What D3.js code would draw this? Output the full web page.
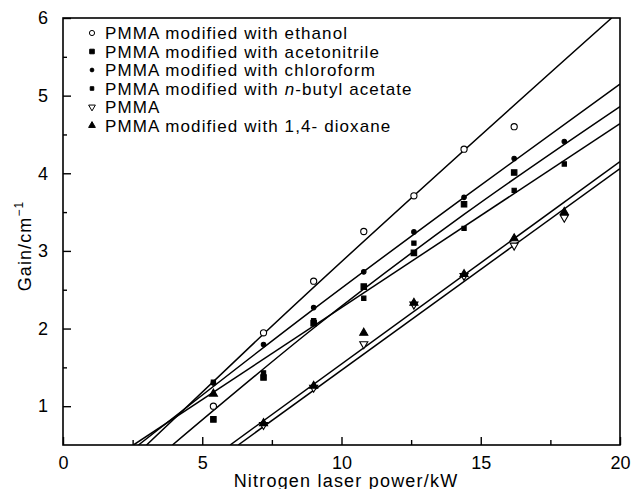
<!doctype html>
<html>
<head>
<meta charset="utf-8">
<title>Gain vs nitrogen laser power</title>
<script src="https://d3js.org/d3.v7.min.js"></script>
<style>
  body { margin: 0; background: #fff; }
  text { font-family: "Liberation Sans", Arial, sans-serif; fill: #000; }
</style>
</head>
<body>
<script>
// pump power (kW) at which gain was measured
var power = [5.4, 7.2, 9.0, 10.8, 12.6, 14.4, 16.2, 18.0];

// measured gain (cm^-1), null where no point is drawn
var ethanol      = [1.00, 1.945, 2.61, 3.25, 3.71, 4.31, 4.60, null];
var acetonitrile = [0.83, 1.37, 2.07, 2.54, 2.975, 3.60, 4.01, null];
var chloroform   = [1.30, 1.795, 2.27, 2.73, 3.245, 3.69, 4.19, 4.41];
var nbutyl       = [1.31, 1.43, 2.10, 2.39, 3.10, 3.29, 3.78, 4.12];
var pmma         = [null, 0.76, 1.24, 1.80, 2.31, 2.68, 3.07, 3.43];
var dioxane      = [1.16, 0.78, 1.26, 1.945, 2.33, 2.70, 3.16, 3.50];

// fitted lines, as (power, gain) knots
var ethanolFitX = [3.0, 7.2, 19.7],        ethanolFitY = [0.5, 1.93, 6.0];
var acetoFitX   = [3.93, 9.05, 14.4, 20],  acetoFitY   = [0.5, 2.02, 3.47, 4.86];
var chloroFitX  = [2.71, 9.0, 14.4, 20],   chloroFitY  = [0.5, 2.25, 3.69, 5.15];
var nbutylFitX  = [2.53, 20],              nbutylFitY  = [0.5, 4.64];
var pmmaFitX    = [6.29, 20],              pmmaFitY    = [0.5, 4.06];
var dioxaneFitX = [6.0, 20],               dioxaneFitY = [0.5, 4.15];

var legendLabels = [
  ["PMMA modified with ethanol"],
  ["PMMA modified with acetonitrile"],
  ["PMMA modified with chloroform"],
  ["PMMA modified with ", "n", "-butyl acetate"],
  ["PMMA"],
  ["PMMA modified with 1,4- dioxane"]
];

var xTicks = [0, 5, 10, 15, 20];
var xMinor = [2.5, 7.5, 12.5, 17.5];
var yTicks = [1, 2, 3, 4, 5, 6];
var yMinor = [1.5, 2.5, 3.5, 4.5, 5.5];

var width = 631, height = 489;
var mLeft = 63, mRight = 620, mTop = 18, mBottom = 445;

var x = d3.scaleLinear().domain([0, 20]).range([mLeft, mRight]);
var y = d3.scaleLinear().domain([0.5, 6]).range([mBottom, mTop]);

var svg = d3.select("body").append("svg")
  .attr("width", width)
  .attr("height", height);

svg.append("defs").append("clipPath").attr("id", "plot")
  .append("rect")
  .attr("x", mLeft).attr("y", mTop)
  .attr("width", mRight - mLeft).attr("height", mBottom - mTop);

// frame
svg.append("rect")
  .attr("x", mLeft).attr("y", mTop)
  .attr("width", mRight - mLeft).attr("height", mBottom - mTop)
  .attr("fill", "none").attr("stroke", "#000").attr("stroke-width", 1.6);

// inward ticks
var xAxis = svg.append("g").attr("transform", "translate(0," + mBottom + ")");
xAxis.call(d3.axisBottom(x).tickValues(xTicks).tickFormat(d3.format("d"))
  .tickSizeInner(-8).tickSizeOuter(0).tickPadding(11));
xAxis.append("g").call(d3.axisBottom(x).tickValues(xMinor).tickSizeInner(-5).tickSizeOuter(0).tickFormat(""));

var yAxis = svg.append("g").attr("transform", "translate(" + mLeft + ",0)");
yAxis.call(d3.axisLeft(y).tickValues(yTicks).tickFormat(d3.format("d"))
  .tickSizeInner(-8).tickSizeOuter(0).tickPadding(15));
yAxis.append("g").call(d3.axisLeft(y).tickValues(yMinor).tickSizeInner(-4).tickSizeOuter(0).tickFormat(""));

svg.selectAll(".domain").remove();
svg.selectAll(".tick line").attr("stroke", "#000").attr("stroke-width", 1.4);
svg.selectAll(".tick text").style("font-family", "'Liberation Sans', Arial, sans-serif")
  .style("font-size", "18px").attr("fill", "#000");

// axis titles
svg.append("text")
  .attr("x", 346).attr("y", 487)
  .attr("text-anchor", "middle")
  .style("font-size", "18px").style("letter-spacing", "1.2px")
  .text("Nitrogen laser power/kW");

var yt = svg.append("text")
  .attr("transform", "translate(31,246) rotate(-90)")
  .attr("text-anchor", "middle")
  .style("font-size", "18px").style("letter-spacing", "1.1px");
yt.append("tspan").text("Gain/cm");
yt.append("tspan").attr("dy", -8).style("font-size", "12px").text("\u22121");

// fit lines
var fits = [
  [ethanolFitX, ethanolFitY], [acetoFitX, acetoFitY], [chloroFitX, chloroFitY],
  [nbutylFitX, nbutylFitY], [pmmaFitX, pmmaFitY], [dioxaneFitX, dioxaneFitY]
];
var line = d3.line()
  .x(function(d) { return x(d[0]); })
  .y(function(d) { return y(d[1]); })
  .curve(d3.curveMonotoneX);

svg.append("g").attr("clip-path", "url(#plot)")
  .selectAll("path")
  .data(fits)
  .enter()
    .append("path")
    .attr("d", function(f) { return line(d3.zip(f[0], f[1])); })
    .attr("fill", "none")
    .attr("stroke", "#000")
    .attr("stroke-width", 1.5);

// markers
var series = [
  { values: ethanol,      type: d3.symbolCircle,   size: 30, fill: "#fff", rot: 0 },
  { values: acetonitrile, type: d3.symbolSquare,   size: 30, fill: "#000", rot: 0 },
  { values: chloroform,   type: d3.symbolCircle,   size: 16, fill: "#000", rot: 0 },
  { values: nbutyl,       type: d3.symbolSquare,   size: 18, fill: "#000", rot: 0 },
  { values: pmma,         type: d3.symbolTriangle, size: 28, fill: "#fff", rot: 180 },
  { values: dioxane,      type: d3.symbolTriangle, size: 28, fill: "#000", rot: 0 }
];

series.forEach(function(s) {
  var pts = power.map(function(p, i) { return [p, s.values[i]]; })
    .filter(function(d) { return d[1] != null; });
  svg.append("g").selectAll("path")
    .data(pts)
    .enter()
      .append("path")
      .attr("d", d3.symbol().type(s.type).size(s.size))
      .attr("transform", function(d) {
        return "translate(" + x(d[0]) + "," + y(d[1]) + ") rotate(" + s.rot + ")";
      })
      .attr("fill", s.fill)
      .attr("stroke", "#000")
      .attr("stroke-width", 1.1);
});

// legend
var legend = svg.append("g");
legendLabels.forEach(function(parts, i) {
  var s = series[i];
  var ly = 33 + i * 18.5;
  legend.append("path")
    .attr("d", d3.symbol().type(s.type).size(s.size * 0.7))
    .attr("transform", "translate(92," + ly + ") rotate(" + s.rot + ")")
    .attr("fill", s.fill).attr("stroke", "#000").attr("stroke-width", 1);
  var t = legend.append("text")
    .attr("x", 105).attr("y", ly + 6)
    .style("font-size", "17px").style("letter-spacing", "1.1px");
  parts.forEach(function(p, j) {
    var ts = t.append("tspan").text(p);
    if (parts.length > 1 && j === 1) ts.style("font-style", "italic");
  });
});
</script>
</body>
</html>
